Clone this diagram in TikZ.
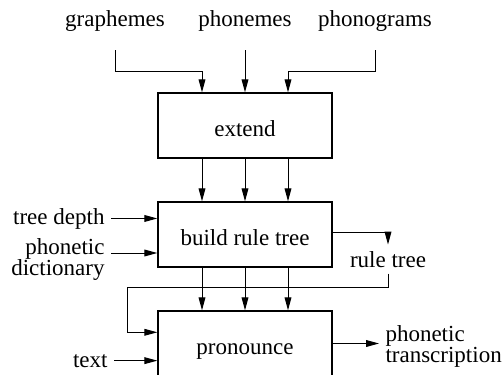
\documentclass[tikz,border=0pt]{standalone}
\usepackage{fontspec}
\setmainfont{Liberation Serif}
\usetikzlibrary{arrows.meta}

\tikzset{
	box/.style={draw,line width=0.7pt,minimum width=87pt,minimum height=32.5pt,inner sep=0pt,text height=11pt,text depth=0pt},
	lab/.style={inner sep=3pt},
}

\begin{document}
\begin{tikzpicture}[x=0.5pt,y=-0.5pt,line width=0.5pt,>={Triangle[length=6.5pt,width=3.4pt]},
	every node/.style={font=\fontsize{11.5}{10.5}\selectfont}]
	\useasboundingbox (0,0) rectangle (502,374);
	\clip (0,0) rectangle (502,374);
	\node[box] (ext) at (245,125.5) {extend};
	\node[box] (bld) at (245,234.5) {build rule tree};
	\node[box] (prn) at (245,343.5) {pronounce};
	\node[lab,anchor=base] (gr) at (115,27) {graphemes};
	\node[lab,anchor=base] (ph) at (245,27) {phonemes};
	\node[lab,anchor=base] (pg) at (375,27) {phonograms};
	\node[lab,anchor=base east] (td) at (111,224) {tree depth};
	\node[lab,anchor=east,align=right] (pd) at (111,259) {phonetic\\dictionary};
	\node[lab,anchor=base] (rt) at (388,267) {rule tree};
	\node[lab,anchor=base east] (tx) at (114,367) {text};
	\node[lab,anchor=west,align=left] (pt) at (379,346) {phonetic\\transcription};
	% inputs of extend
	\draw[->] ([yshift=-6pt]gr.south) |- ([xshift=-21.5pt,yshift=10.5pt]ext.north) -- ([xshift=-21.5pt]ext.north);
	\draw[->] ([yshift=-6pt]ph.south) -- (ext.north);
	\draw[->] ([yshift=-6pt]pg.south) |- ([xshift=21.5pt,yshift=10.5pt]ext.north) -- ([xshift=21.5pt]ext.north);
	\foreach \dx in {-21.5,0,21.5} {
		\draw[->] ([xshift=\dx pt]ext.south) -- ([xshift=\dx pt]bld.north);
		\draw[->] ([xshift=\dx pt]bld.south) -- ([xshift=\dx pt]prn.north);
	}
	\draw[->] (td.east) -- (td.east -| bld.west);
	\draw[->] ([yshift=3pt]pd.east) -- ([yshift=3pt]pd.east -| bld.west);
	\draw[->] ([yshift=1.25pt]bld.east) -| (rt.north);
	\draw[->] (rt.south) |- ([xshift=-15pt,yshift=11.5pt]prn.north west) |- ([yshift=-11pt]prn.north west);
	\draw[->] (tx.east) -- (tx.east -| prn.west);
	\draw[->] (prn.east) -- (prn.east -| pt.west);
\end{tikzpicture}
\end{document}
